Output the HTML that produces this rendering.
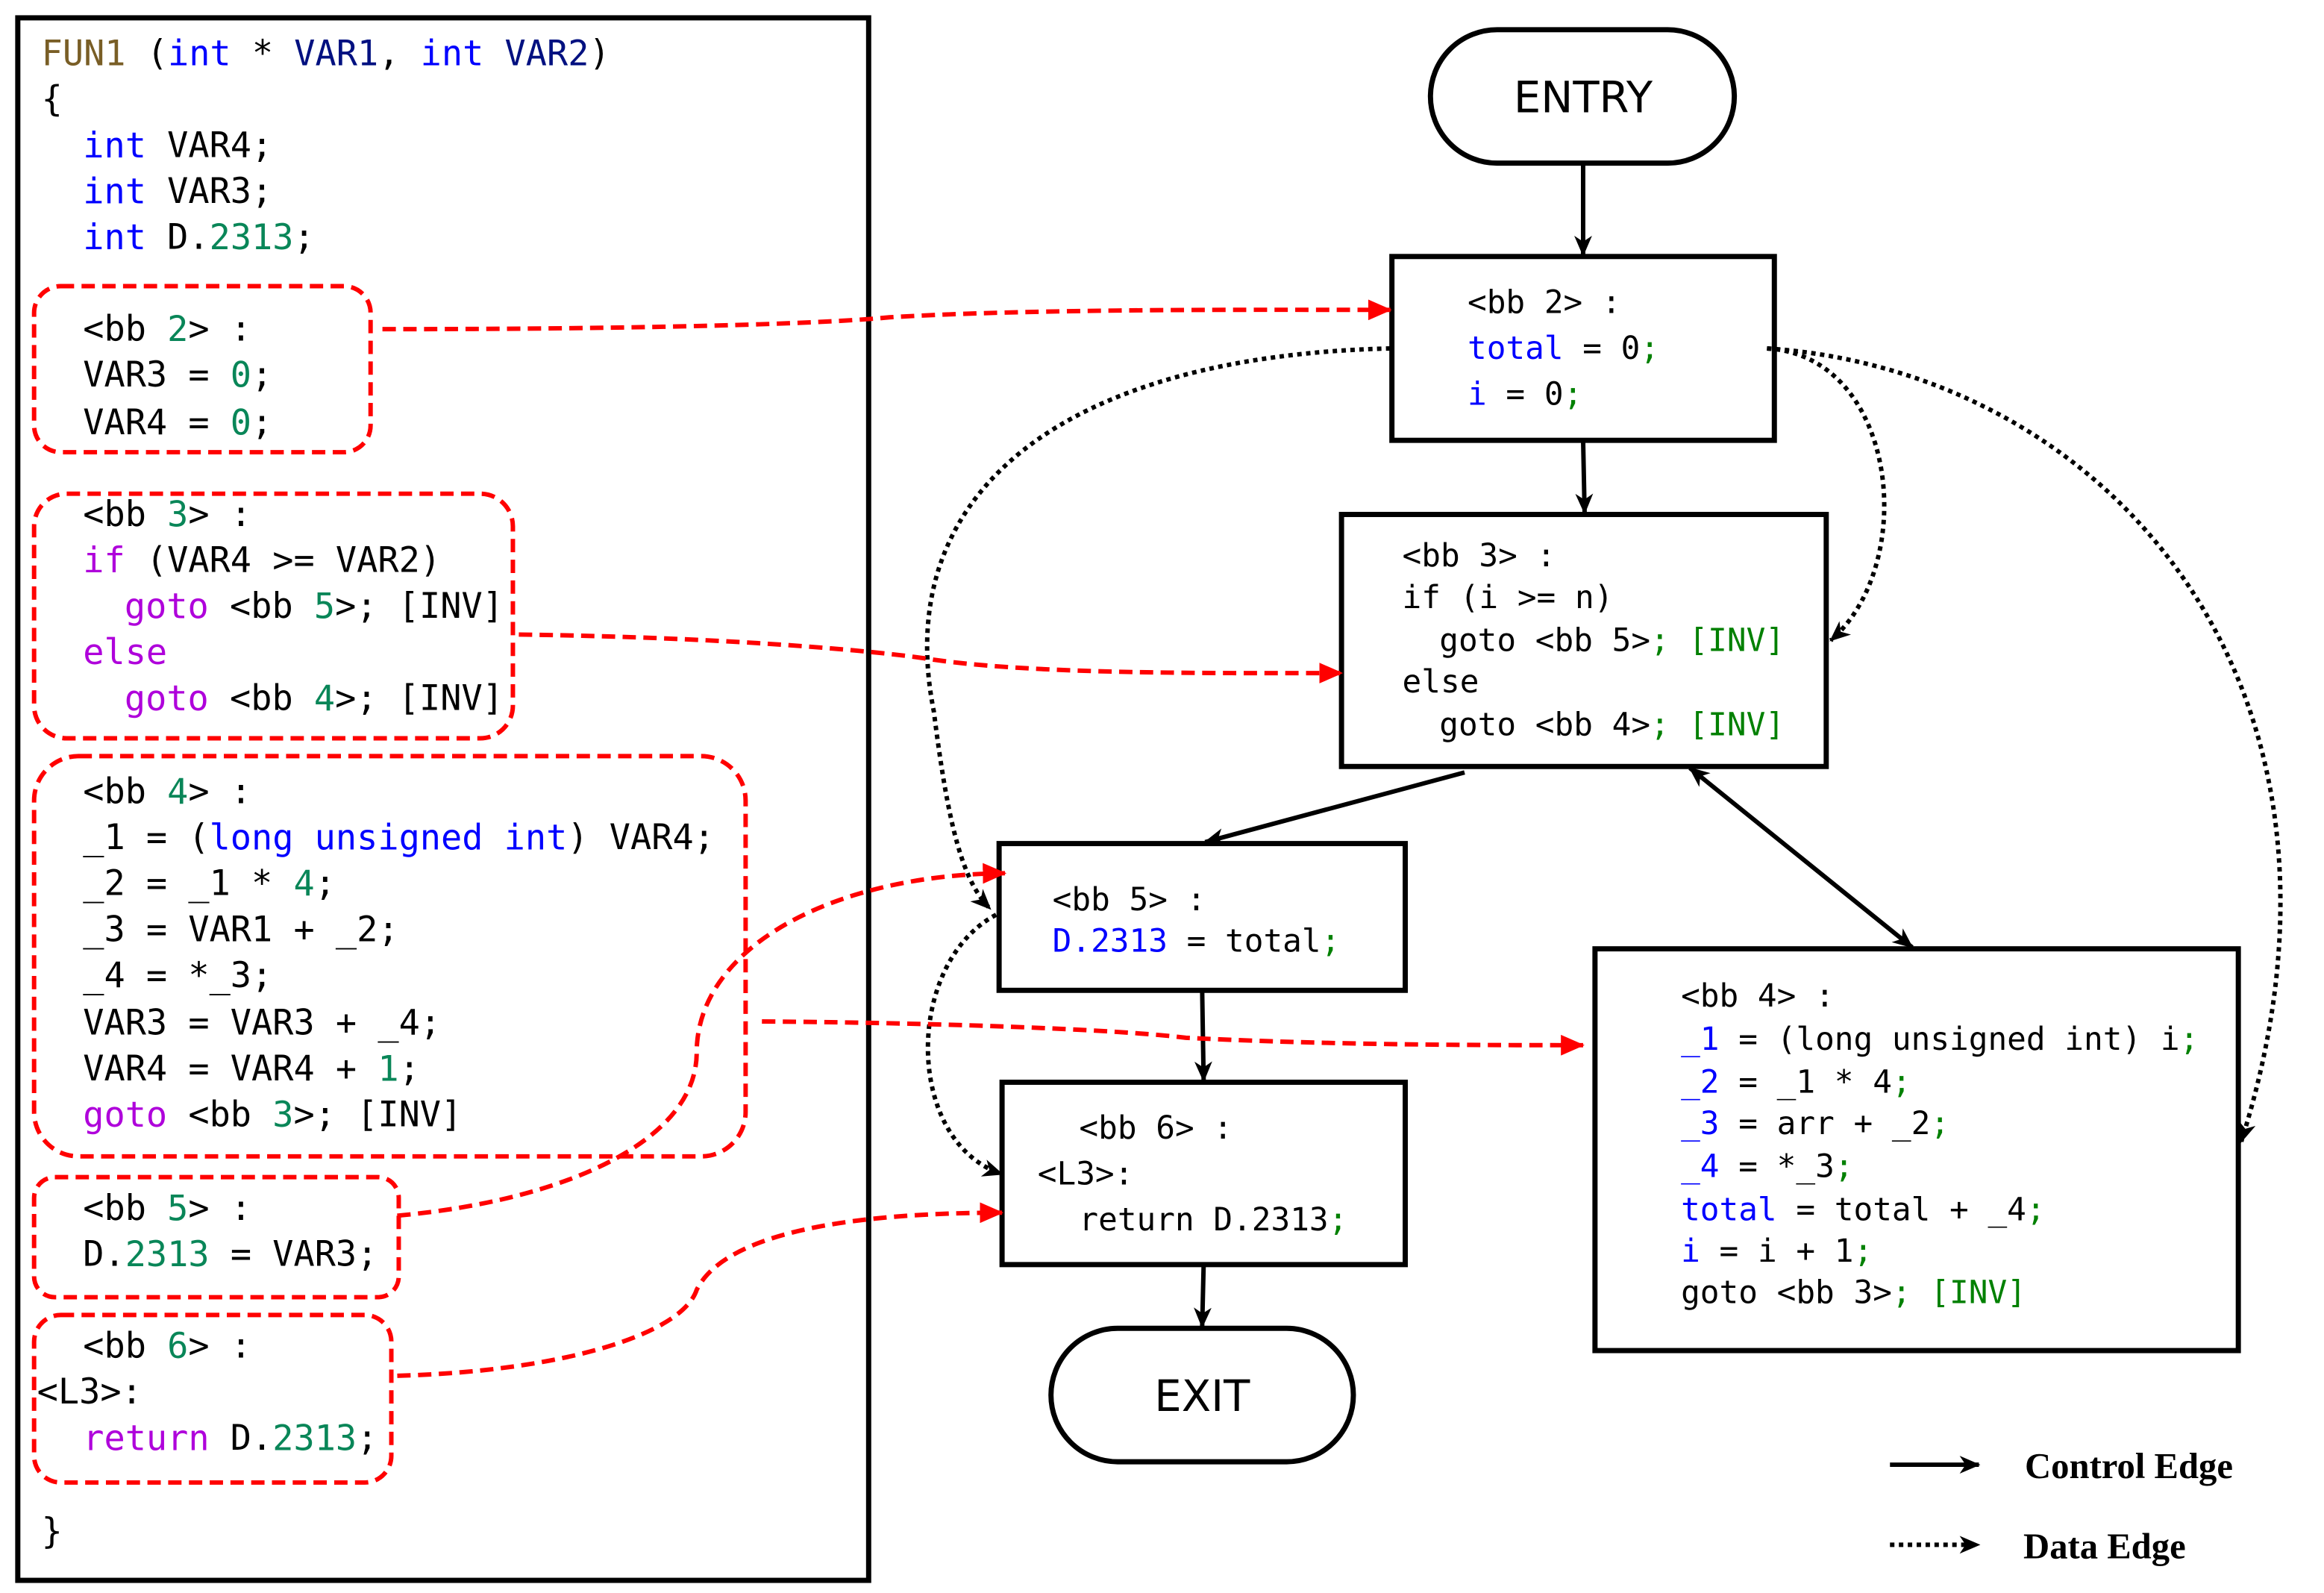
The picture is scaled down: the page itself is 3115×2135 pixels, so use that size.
<!DOCTYPE html>
<html><head><meta charset="utf-8"><style>
html,body{margin:0;padding:0;background:#fff}
svg{display:block}
.m{font-family:"DejaVu Sans Mono","Liberation Mono",monospace}
.L{font-size:23.6px}
.R{font-size:21.5px}
.k{fill:#0000ff}.v{fill:#001080}.n{fill:#098658}.p{fill:#af00db}.g{fill:#008000}.f{fill:#795e26}
</style></head><body>
<svg width="3115" height="2135" viewBox="0 0 1567.8 1074.5" xmlns="http://www.w3.org/2000/svg">
<defs>
<marker id="ab" markerWidth="14" markerHeight="12" refX="13" refY="6" orient="auto" markerUnits="userSpaceOnUse"><path d="M0,0 L14,6 L0,12 L4,6 z" fill="#000"/></marker>
<marker id="abs" markerWidth="14" markerHeight="12" refX="1" refY="6" orient="auto" markerUnits="userSpaceOnUse"><path d="M14,0 L0,6 L14,12 L10,6 z" fill="#000"/></marker>
<marker id="ar" markerWidth="16" markerHeight="14" refX="15" refY="7" orient="auto" markerUnits="userSpaceOnUse"><path d="M0,0 L16,7 L0,14 z" fill="#ff0000"/></marker>
</defs>
<rect x="12" y="12" width="574" height="1054" fill="none" stroke="#000" stroke-width="3.5"/>
<g fill="none" stroke="#ff0000" stroke-width="3" stroke-dasharray="9,5">
<rect x="23" y="193" width="227" height="112" rx="18"/>
<rect x="23" y="333" width="323" height="165" rx="22"/>
<rect x="23" y="510" width="480" height="270" rx="30"/>
<rect x="23" y="794" width="246" height="81" rx="14"/>
<rect x="23" y="887" width="241" height="113" rx="18"/>
</g>
<g class="m L" fill="#000" dominant-baseline="central">
<text x="28" y="36"><tspan class="f">FUN1</tspan> (<tspan class="k">int</tspan> * <tspan class="v">VAR1</tspan>, <tspan class="k">int</tspan> <tspan class="v">VAR2</tspan>)</text>
<text x="28" y="67">{</text>
<text x="56" y="98"><tspan class="k">int</tspan> VAR4;</text>
<text x="56" y="129"><tspan class="k">int</tspan> VAR3;</text>
<text x="56" y="160"><tspan class="k">int</tspan> D.<tspan class="n">2313</tspan>;</text>
<text x="56" y="222">&lt;bb <tspan class="n">2</tspan>&gt; :</text>
<text x="56" y="253">VAR3 = <tspan class="n">0</tspan>;</text>
<text x="56" y="285">VAR4 = <tspan class="n">0</tspan>;</text>
<text x="56" y="347">&lt;bb <tspan class="n">3</tspan>&gt; :</text>
<text x="56" y="378"><tspan class="p">if</tspan> (VAR4 &gt;= VAR2)</text>
<text x="84" y="409"><tspan class="p">goto</tspan> &lt;bb <tspan class="n">5</tspan>&gt;; [INV]</text>
<text x="56" y="440" class="p">else</text>
<text x="84" y="471"><tspan class="p">goto</tspan> &lt;bb <tspan class="n">4</tspan>&gt;; [INV]</text>
<text x="56" y="534">&lt;bb <tspan class="n">4</tspan>&gt; :</text>
<text x="56" y="565">_1 = (<tspan class="k">long unsigned int</tspan>) VAR4;</text>
<text x="56" y="596">_2 = _1 * <tspan class="n">4</tspan>;</text>
<text x="56" y="627">_3 = VAR1 + _2;</text>
<text x="56" y="658">_4 = *_3;</text>
<text x="56" y="690">VAR3 = VAR3 + _4;</text>
<text x="56" y="721">VAR4 = VAR4 + <tspan class="n">1</tspan>;</text>
<text x="56" y="752"><tspan class="p">goto</tspan> &lt;bb <tspan class="n">3</tspan>&gt;; [INV]</text>
<text x="56" y="815">&lt;bb <tspan class="n">5</tspan>&gt; :</text>
<text x="56" y="846">D.<tspan class="n">2313</tspan> = VAR3;</text>
<text x="56" y="908">&lt;bb <tspan class="n">6</tspan>&gt; :</text>
<text x="25" y="939">&lt;L3&gt;:</text>
<text x="56" y="970"><tspan class="p">return</tspan> D.<tspan class="n">2313</tspan>;</text>
<text x="28" y="1033">}</text>
</g>
<g fill="#fff" stroke="#000" stroke-width="3.5">
<rect x="965" y="20" width="205" height="90" rx="45"/>
<rect x="939" y="173" width="258" height="124"/>
<rect x="905" y="347" width="327" height="170"/>
<rect x="674" y="569" width="274" height="99"/>
<rect x="676" y="730" width="272" height="123"/>
<rect x="1076" y="640" width="434" height="271"/>
<rect x="709" y="896" width="204" height="90" rx="45"/>
</g>
<g font-family="DejaVu Sans,Liberation Sans,sans-serif" font-size="29" text-anchor="middle" dominant-baseline="central">
<text x="1068" y="66">ENTRY</text><text x="811" y="942">EXIT</text>
</g>
<g class="m R" fill="#000" dominant-baseline="central">
<text x="990" y="204">&lt;bb 2&gt; :</text>
<text x="990" y="235"><tspan class="k">total</tspan> = 0<tspan class="g">;</tspan></text>
<text x="990" y="266"><tspan class="k">i</tspan> = 0<tspan class="g">;</tspan></text>
<text x="946" y="375">&lt;bb 3&gt; :</text>
<text x="946" y="403">if (i &gt;= n)</text>
<text x="971" y="432">goto &lt;bb 5&gt;<tspan class="g">; [INV]</tspan></text>
<text x="946" y="460">else</text>
<text x="971" y="489">goto &lt;bb 4&gt;<tspan class="g">; [INV]</tspan></text>
<text x="710" y="607">&lt;bb 5&gt; :</text>
<text x="710" y="635"><tspan class="k">D.2313</tspan> = total<tspan class="g">;</tspan></text>
<text x="728" y="761">&lt;bb 6&gt; :</text>
<text x="700" y="792">&lt;L3&gt;:</text>
<text x="728" y="823">return D.2313<tspan class="g">;</tspan></text>
<text x="1134" y="672">&lt;bb 4&gt; :</text>
<text x="1134" y="701"><tspan class="k">_1</tspan> = (long unsigned int) i<tspan class="g">;</tspan></text>
<text x="1134" y="730"><tspan class="k">_2</tspan> = _1 * 4<tspan class="g">;</tspan></text>
<text x="1134" y="758"><tspan class="k">_3</tspan> = arr + _2<tspan class="g">;</tspan></text>
<text x="1134" y="787"><tspan class="k">_4</tspan> = *_3<tspan class="g">;</tspan></text>
<text x="1134" y="816"><tspan class="k">total</tspan> = total + _4<tspan class="g">;</tspan></text>
<text x="1134" y="844"><tspan class="k">i</tspan> = i + 1<tspan class="g">;</tspan></text>
<text x="1134" y="872">goto &lt;bb 3&gt;<tspan class="g">; [INV]</tspan></text>
</g>
<g stroke="#000" stroke-width="3" fill="none">
<line x1="1068" y1="110" x2="1068" y2="172" marker-end="url(#ab)"/>
<line x1="1068" y1="297" x2="1069" y2="346" marker-end="url(#ab)"/>
<line x1="988" y1="521" x2="813" y2="568" marker-end="url(#ab)"/>
<line x1="1140" y1="518" x2="1290" y2="639" marker-start="url(#abs)" marker-end="url(#ab)"/>
<line x1="811" y1="668" x2="812" y2="729" marker-end="url(#ab)"/>
<line x1="812" y1="853" x2="811" y2="895" marker-end="url(#ab)"/>
<line x1="1275" y1="988" x2="1335" y2="988" marker-end="url(#ab)"/>
</g>
<g stroke="#000" stroke-width="3" fill="none" stroke-dasharray="3,3">
<path d="M938,235 C 720,240 600,330 630,480 C 640,560 650,595 668,613" marker-end="url(#ab)"/>
<path d="M672,617 C 610,650 610,770 676,792" marker-end="url(#ab)"/>
<path d="M1192,235 C 1280,240 1295,380 1235,432" marker-end="url(#ab)"/>
<path d="M1192,235 C 1420,250 1610,460 1512,770" marker-end="url(#ab)"/>
<line x1="1275" y1="1042" x2="1335" y2="1042" marker-end="url(#ab)"/>
</g>
<g stroke="#ff0000" stroke-width="3" fill="none" stroke-dasharray="9,5">
<path d="M258,222 C 450,222 560,218 600,214 C 700,208 850,209 938,209" marker-end="url(#ar)"/>
<path d="M350,428 C 500,430 600,440 630,445 C 700,455 820,454 905,454" marker-end="url(#ar)"/>
<path d="M514,689 C 650,690 760,695 800,700 C 900,705 1000,705 1068,705" marker-end="url(#ar)"/>
<path d="M268,820 C 380,810 470,770 470,710 C 470,640 560,590 678,589" marker-end="url(#ar)"/>
<path d="M268,928 C 380,925 460,900 470,870 C 490,830 580,818 676,818" marker-end="url(#ar)"/>
</g>
<g font-family="Liberation Serif,serif" font-weight="bold" font-size="24.5" dominant-baseline="central">
<text x="1366" y="989">Control Edge</text>
<text x="1365" y="1043">Data Edge</text>
</g>
</svg>
</body></html>
